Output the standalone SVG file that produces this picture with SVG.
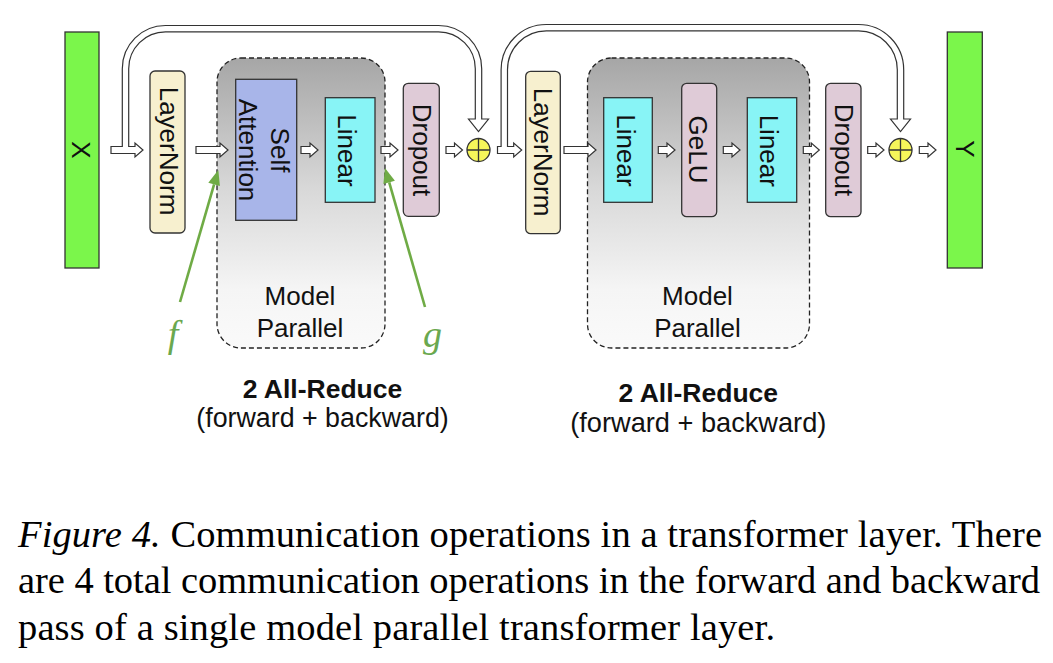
<svg xmlns="http://www.w3.org/2000/svg" width="1053" height="663" viewBox="0 0 1053 663">
<style>
.lbl{font-family:"Liberation Sans",Arial,sans-serif;font-size:26px;fill:#111;text-anchor:middle}
.bold{font-weight:bold}
.box{stroke:#333;stroke-width:1.3}
.arr{fill:#fff;stroke:#333;stroke-width:1.2;stroke-linejoin:miter}
.pipeB{fill:none;stroke:#333;stroke-width:7.6}
.pipeW{fill:none;stroke:#fff;stroke-width:5.2}
.mp{stroke:#222;stroke-width:1.3;stroke-dasharray:5 3;fill:url(#grad)}
.grn{stroke:#6fab45;stroke-width:2.6;fill:none}
.grnh{fill:#6fab45}
.math{font-family:"Liberation Serif","Times New Roman",serif;font-style:italic;font-size:38px;fill:#6aa84f;text-anchor:middle}
.cap{font-family:"Liberation Serif","Times New Roman",serif;font-size:38.5px;fill:#000}
</style>
<defs>
<linearGradient id="grad" x1="0" y1="0" x2="0" y2="1">
<stop offset="0" stop-color="#a6a6a6"/>
<stop offset="0.45" stop-color="#d8d8d8"/>
<stop offset="0.8" stop-color="#f5f5f5"/>
<stop offset="1" stop-color="#fafafa"/>
</linearGradient>
</defs>
<rect width="1053" height="663" fill="#fff"/>

<g id="mp1">
<rect class="mp" x="217" y="58" width="168" height="290" rx="24"/>
<text class="lbl" x="300" y="305">Model</text>
<text class="lbl" x="300" y="336.7">Parallel</text>
</g>
<g id="mp2">
<rect class="mp" x="587.5" y="58" width="222" height="290" rx="24"/>
<text class="lbl" x="697.5" y="305">Model</text>
<text class="lbl" x="697.5" y="336.7">Parallel</text>
</g>

<g id="connectors">
<polygon class="arr" points="111,146.5 135,146.5 135,143 143,150 135,157 135,153.5 111,153.5"/>
<polygon class="arr" points="196,146.5 220,146.5 220,143 228,150 220,157 220,153.5 196,153.5"/>
<polygon class="arr" points="301,146.5 310,146.5 310,143 318,150 310,157 310,153.5 301,153.5"/>
<polygon class="arr" points="381,146.5 390,146.5 390,143 398,150 390,157 390,153.5 381,153.5"/>
<polygon class="arr" points="446,146.5 454.5,146.5 454.5,143 462.5,150 454.5,157 454.5,153.5 446,153.5"/>
<polygon class="arr" points="497.5,146.5 513.7,146.5 513.7,143 521.7,150 513.7,157 513.7,153.5 497.5,153.5"/>
<polygon class="arr" points="564,146.5 588,146.5 588,143 596,150 588,157 588,153.5 564,153.5"/>
<polygon class="arr" points="658.3,146.5 667,146.5 667,143 675,150 667,157 667,153.5 658.3,153.5"/>
<polygon class="arr" points="723.3,146.5 732,146.5 732,143 740,150 732,157 732,153.5 723.3,153.5"/>
<polygon class="arr" points="803.3,146.5 811.3,146.5 811.3,143 819.3,150 811.3,157 811.3,153.5 803.3,153.5"/>
<polygon class="arr" points="867.7,146.5 876,146.5 876,143 884,150 876,157 876,153.5 867.7,153.5"/>
<polygon class="arr" points="919.3,146.5 928,146.5 928,143 936,150 928,157 928,153.5 919.3,153.5"/>

<polygon class="arr" points="468.5,119 488.5,119 478.5,131.5"/>
<path class="pipeB" d="M125.5,147 V68.7 A40,40 0 0 1 165.5,28.7 H438.5 A40,40 0 0 1 478.5,68.7 V119"/>
<path class="pipeW" d="M125.5,149.5 V68.7 A40,40 0 0 1 165.5,28.7 H438.5 A40,40 0 0 1 478.5,68.7 V120.5"/>

<polygon class="arr" points="890.5,119 910.5,119 900.5,131.5"/>
<path class="pipeB" d="M504.3,147 V69.7 A42,42 0 0 1 546.3,27.7 H858.5 A42,42 0 0 1 900.5,69.7 V119"/>
<path class="pipeW" d="M504.3,149.5 V69.7 A42,42 0 0 1 546.3,27.7 H858.5 A42,42 0 0 1 900.5,69.7 V120.5"/>

<g id="f-arrow">
<line class="grn" x1="180" y1="302" x2="214.1" y2="184.4"/>
<polygon class="grnh" points="218.3,170 219.9,186.1 208.3,182.7"/>
</g>
<g id="g-arrow">
<line class="grn" x1="425" y1="307" x2="389.2" y2="182.4"/>
<polygon class="grnh" points="385,168 394.9,180.7 383.4,184.1"/>
</g>
</g>

<g id="X">
<rect class="box" x="65" y="32" width="34" height="236" fill="#7bf64b"/>
<text class="lbl" transform="translate(72,150) rotate(90)">X</text>
</g>
<g id="layernorm1">
<rect class="box" x="150" y="71" width="35" height="162" rx="5" fill="#f7f0cf"/>
<text class="lbl" transform="translate(160,151) rotate(90)">LayerNorm</text>
</g>
<g id="selfattention">
<rect class="box" x="235.7" y="79.3" width="61" height="141" fill="#a8b5e9"/>
<text class="lbl" transform="translate(271,150) rotate(90)">Self</text>
<text class="lbl" transform="translate(238.5,150) rotate(90)">Attention</text>
</g>
<g id="linear1">
<rect class="box" x="325.3" y="97.7" width="49.7" height="104.6" fill="#88f4f6"/>
<text class="lbl" transform="translate(338,150.5) rotate(90)">Linear</text>
</g>
<g id="dropout1">
<rect class="box" x="403.3" y="83.3" width="36" height="133" rx="5" fill="#dfcbd7"/>
<text class="lbl" transform="translate(413,150) rotate(90)">Dropout</text>
</g>
<g id="plus1">
<circle cx="478.5" cy="150" r="11.5" fill="#f6f65a" stroke="#333" stroke-width="1.3"/>
<path d="M467,150 H490 M478.5,138.5 V161.5" stroke="#333" stroke-width="1.3"/>
</g>
<g id="layernorm2">
<rect class="box" x="525.7" y="71.3" width="34.6" height="162.4" rx="5" fill="#f7f0cf"/>
<text class="lbl" transform="translate(534,152) rotate(90)">LayerNorm</text>
</g>
<g id="linear2a">
<rect class="box" x="603.7" y="97.7" width="48.6" height="104.6" fill="#88f4f6"/>
<text class="lbl" transform="translate(617,150.5) rotate(90)">Linear</text>
</g>
<g id="gelu">
<rect class="box" x="681.7" y="83.3" width="35" height="133.4" rx="5" fill="#dfcbd7"/>
<text class="lbl" transform="translate(689,149.5) rotate(90)">GeLU</text>
</g>
<g id="linear2b">
<rect class="box" x="747.3" y="97.7" width="49.4" height="104.6" fill="#88f4f6"/>
<text class="lbl" transform="translate(760,150.8) rotate(90)">Linear</text>
</g>
<g id="dropout2">
<rect class="box" x="825.7" y="83.3" width="35.3" height="133.4" rx="5" fill="#dfcbd7"/>
<text class="lbl" transform="translate(834.5,150) rotate(90)">Dropout</text>
</g>
<g id="plus2">
<circle cx="900.5" cy="150" r="11.5" fill="#f6f65a" stroke="#333" stroke-width="1.3"/>
<path d="M889,150 H912 M900.5,138.5 V161.5" stroke="#333" stroke-width="1.3"/>
</g>
<g id="Y">
<rect class="box" x="947.3" y="32" width="35" height="236" fill="#7bf64b"/>
<text class="lbl" transform="translate(956,149) rotate(90)">Y</text>
</g>

<g id="labels">
<text class="math" x="173" y="347">f</text>
<text class="math" x="432.5" y="347">g</text>
<text class="lbl bold" x="322.5" y="397.5" style="font-size:26.5px">2 All-Reduce</text>
<text class="lbl" x="322.5" y="427" style="font-size:26.8px">(forward + backward)</text>
<text class="lbl bold" x="698.3" y="401.7" style="font-size:26.5px">2 All-Reduce</text>
<text class="lbl" x="698.3" y="431.7" style="font-size:27.2px">(forward + backward)</text>
</g>

<g id="caption">
<text class="cap" x="18" y="547" textLength="1024" lengthAdjust="spacing"><tspan font-style="italic">Figure 4.</tspan> Communication operations in a transformer layer. There</text>
<text class="cap" x="18" y="593" textLength="1022" lengthAdjust="spacing">are 4 total communication operations in the forward and backward</text>
<text class="cap" x="18" y="640" textLength="757" lengthAdjust="spacing">pass of a single model parallel transformer layer.</text>
</g>
</svg>
